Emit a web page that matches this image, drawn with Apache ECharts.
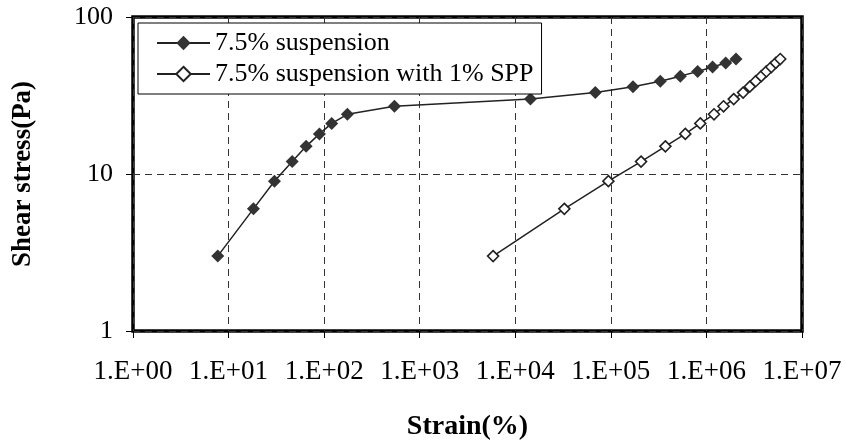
<!DOCTYPE html>
<html>
<head>
<meta charset="utf-8">
<script src="https://cdn.jsdelivr.net/npm/echarts@6/dist/echarts.min.js"></script>
<style>
html,body{margin:0;padding:0;background:#fff;}
#chart{width:846px;height:446px;}
</style>
</head>
<body>
<div id="chart"></div>
<script>
// ---- data ----
var seriesNames = ['7.5% suspension', '7.5% suspension with 1% SPP'];
var strain1 = [7.7, 18.2, 30.2, 46.3, 64.8, 89.3, 120, 175, 544, 14400, 68800, 170600, 329000, 533000, 809000, 1160000, 1590000, 2040000];
var stress1 = [3, 6, 9, 12, 15, 18, 21, 24, 27, 30, 33, 36, 39, 42, 45, 48, 51, 54];
var strain2 = [5860, 32600, 94200, 207000, 372000, 601000, 863000, 1200000, 1510000, 1930000, 2420000, 2840000, 3280000, 3750000, 4240000, 4780000, 5320000, 5920000];
var stress2 = [3, 6, 9, 12, 15, 18, 21, 24, 27, 30, 33, 36, 39, 42, 45, 48, 51, 54];
var xTickLabels = ['1.E+00', '1.E+01', '1.E+02', '1.E+03', '1.E+04', '1.E+05', '1.E+06', '1.E+07'];
var yTickLabels = ['1', '10', '100'];

function pairs(xs, ys) { return xs.map(function (x, i) { return [x, ys[i]]; }); }

var FONT = '"Liberation Serif", "Times New Roman", serif';
var chart = echarts.init(document.getElementById('chart'), null, { renderer: 'canvas' });
chart.setOption({
  animation: false,
  backgroundColor: '#fff',
  grid: {
    left: 133, right: 44, top: 17, bottom: 112,
    show: true, borderColor: '#000', borderWidth: 3.5, backgroundColor: 'transparent'
  },
  legend: {
    left: 138, top: 23,
    orient: 'vertical',
    backgroundColor: '#fff',
    borderColor: '#000', borderWidth: 1,
    padding: [7, 8, 7, 18],
    itemWidth: 53, itemHeight: 18, itemGap: 5,
    textStyle: { fontFamily: FONT, fontSize: 26, color: '#000', lineHeight: 24 },
    data: seriesNames
  },
  xAxis: {
    type: 'log', logBase: 10, min: 1, max: 10000000, splitNumber: 7,
    axisLine: { show: false },
    axisTick: { show: true, length: 7, lineStyle: { color: '#000', width: 1 } },
    axisLabel: {
      margin: 27, fontFamily: FONT, fontSize: 27, color: '#000',
      formatter: function (v) { return xTickLabels[Math.round(Math.log10(v))]; }
    },
    splitLine: { show: true, lineStyle: { color: '#333', width: 1, type: [7, 5] } },
    name: 'Strain(%)', nameLocation: 'middle', nameGap: 82,
    nameTextStyle: { fontFamily: FONT, fontSize: 28, fontWeight: 'bold', color: '#000' }
  },
  yAxis: {
    type: 'log', logBase: 10, min: 1, max: 100, splitNumber: 2,
    axisLine: { show: false },
    axisTick: { show: true, length: 7, lineStyle: { color: '#000', width: 1 } },
    axisLabel: {
      margin: 20, fontFamily: FONT, fontSize: 26, color: '#000',
      formatter: function (v) { return yTickLabels[Math.round(Math.log10(v))]; }
    },
    splitLine: { show: true, lineStyle: { color: '#333', width: 1, type: [7, 5] } },
    name: 'Shear stress(Pa)', nameLocation: 'middle', nameGap: 96, nameRotate: 90,
    nameTextStyle: { fontFamily: FONT, fontSize: 27, fontWeight: 'bold', color: '#000' }
  },
  series: [
    {
      name: seriesNames[0], type: 'line', data: pairs(strain1, stress1),
      symbol: 'diamond', symbolSize: [13, 13],
      lineStyle: { color: '#222', width: 1.5 },
      itemStyle: { color: '#333', borderColor: '#333', borderWidth: 0 },
      z: 3
    },
    {
      name: seriesNames[1], type: 'line', data: pairs(strain2, stress2),
      symbol: 'diamond', symbolSize: [11, 11],
      lineStyle: { color: '#222', width: 1.5 },
      itemStyle: { color: '#fff', borderColor: '#222', borderWidth: 1.6 },
      z: 3
    }
  ]
});
</script>
</body>
</html>
